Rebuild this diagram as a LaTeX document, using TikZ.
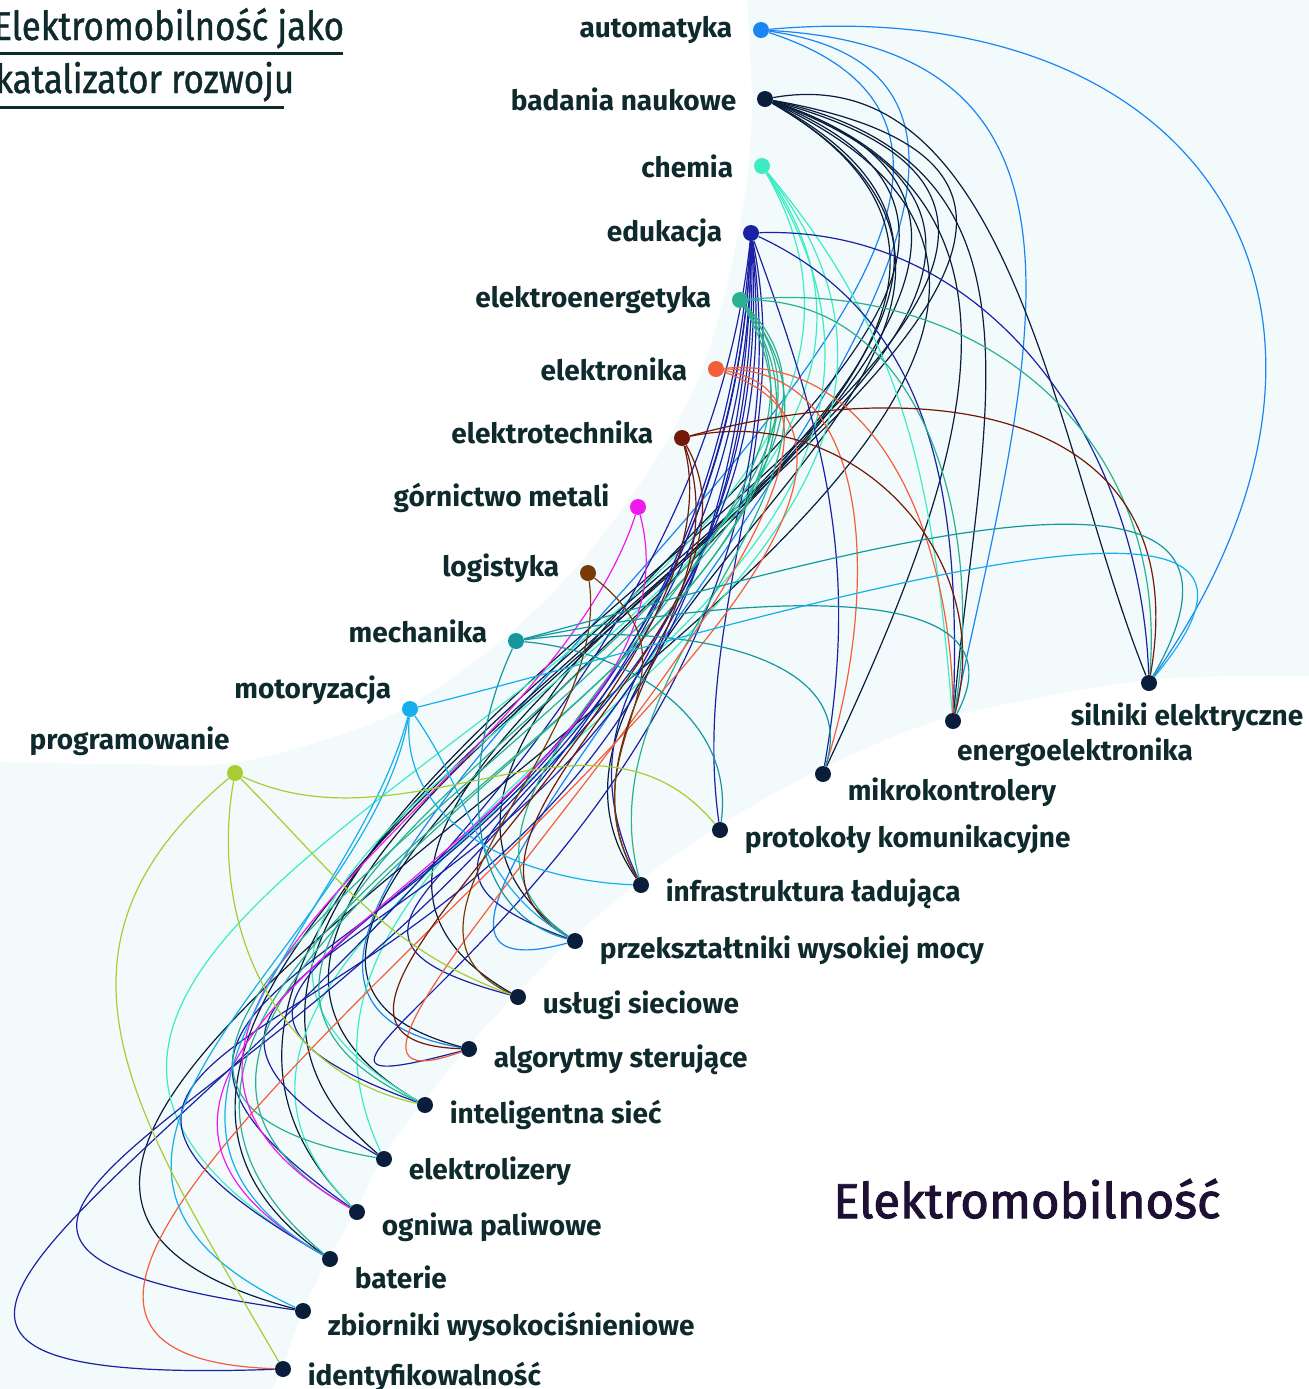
\documentclass[tikz,border=0pt]{standalone}
\usepackage{fontspec}
\setmainfont{Fira Sans}
\newfontfamily\midfont[FakeBold=2]{Fira Sans}
\newfontfamily\headfont[FakeStretch=0.87,FakeBold=1]{Fira Sans}
\usetikzlibrary{positioning}

\definecolor{cA}{HTML}{1B86F0}
\definecolor{cB}{HTML}{0A1D3A}
\definecolor{cC}{HTML}{3EECC2}
\definecolor{cD}{HTML}{1B21A4}
\definecolor{cE}{HTML}{2AB190}
\definecolor{cF}{HTML}{F45E3B}
\definecolor{cG}{HTML}{741807}
\definecolor{cH}{HTML}{F219EF}
\definecolor{cI}{HTML}{783A07}
\definecolor{cJ}{HTML}{14979F}
\definecolor{cK}{HTML}{16AFEC}
\definecolor{cL}{HTML}{A7CD33}
\definecolor{cNavy}{HTML}{0A1D3A}
\definecolor{cText}{HTML}{0E2A2C}
\definecolor{cBand}{HTML}{F2FAFC}
\definecolor{cBig}{HTML}{1D1033}

\pgfdeclarelayer{background}
\pgfdeclarelayer{edges}
\pgfsetlayers{background,edges,main}

\begin{document}
\begin{tikzpicture}[x=0.5pt,y=0.5pt]
\tikzstyle{dot}=[circle, inner sep=0pt, minimum size=8pt]
\tikzstyle{lab}=[inner sep=0pt, text=cText, font=\bfseries\fontsize{14}{16}\selectfont]
\tikzstyle{title}=[inner sep=0pt, text=cText, font=\headfont\fontsize{20}{22}\selectfont]
\tikzstyle{link}=[line width=0.6pt]
\useasboundingbox (0,0) rectangle (1309,-1389);

\begin{pgfonlayer}{background}
\fill[white] (0,0) rectangle (1309,-1389);
\fill[cBand] plot[smooth] coordinates {(747,0) (752,-100) (747,-180) (735,-250) (718,-320) (696,-385) (662,-450) (618,-515) (565,-580) (490,-650) (385,-718) (240,-762) (120,-764) (0,-762)}
  -- (0,-1389) -- (272,-1389)
  -- plot[smooth] coordinates {(272,-1389) (283,-1366) (303,-1310) (330,-1256) (357,-1208) (384,-1155) (425,-1100) (469,-1045) (518,-992) (575,-936) (641,-880) (720,-825) (823,-768) (953,-716) (1149,-680) (1309,-676)}
  -- (1309,0) -- cycle;
\end{pgfonlayer}

% title
\node[title, anchor=base west] (title1) at (-7,-40) {Elektromobilność jako};
\node[title, anchor=base west] (title2) at (-5,-93) {katalizator rozwoju};
\draw[cText, line width=1.5pt] (0,-53) -- (343,-53);
\draw[cText, line width=1.5pt] (0,-107) -- (284,-107);
\node[anchor=base west, inner sep=0pt, text=cBig, font=\midfont\fontsize{24.5}{28}\selectfont] (elektromobilnosc) at (833,-1218) {Elektromobilność};

% disciplines
\node[dot, fill=cA] (automatyka) at (761,-30) {};
\node[dot, fill=cB] (badania) at (765,-99) {};
\node[dot, fill=cC] (chemia) at (762,-166) {};
\node[dot, fill=cD] (edukacja) at (751,-233) {};
\node[dot, fill=cE] (elektroenergetyka) at (740,-300) {};
\node[dot, fill=cF] (elektronika) at (716,-369) {};
\node[dot, fill=cG] (elektrotechnika) at (682,-438) {};
\node[dot, fill=cH] (gornictwo) at (638,-507) {};
\node[dot, fill=cI] (logistyka) at (588,-573) {};
\node[dot, fill=cJ] (mechanika) at (516,-641) {};
\node[dot, fill=cK] (motoryzacja) at (410,-709) {};
\node[dot, fill=cL] (programowanie) at (235,-773) {};

\node[lab, left=10pt of automatyka] (lautomatyka) {automatyka};
\node[lab, left=10pt of badania] (lbadania) {badania naukowe};
\node[lab, left=10pt of chemia] (lchemia) {chemia};
\node[lab, left=10pt of edukacja] (ledukacja) {edukacja};
\node[lab, left=10pt of elektroenergetyka] (lelektroenergetyka) {elektroenergetyka};
\node[lab, left=10pt of elektronika] (lelektronika) {elektronika};
\node[lab, left=10pt of elektrotechnika, yshift=3pt] (lelektrotechnika) {elektrotechnika};
\node[lab, left=10pt of gornictwo, yshift=4.5pt] (lgornictwo) {górnictwo metali};
\node[lab, left=10pt of logistyka, yshift=2.5pt] (llogistyka) {logistyka};
\node[lab, left=10pt of mechanika, yshift=5pt] (lmechanika) {mechanika};
\node[lab, left=5pt of motoryzacja, yshift=9.5pt] (lmotoryzacja) {motoryzacja};
\node[lab, above left=5.5pt and -0.5pt of programowanie] (lprogramowanie) {programowanie};

% topics
\node[dot, fill=cNavy] (silniki) at (1149,-683) {};
\node[dot, fill=cNavy] (energoelektronika) at (953,-721) {};
\node[dot, fill=cNavy] (mikrokontrolery) at (823,-774) {};
\node[dot, fill=cNavy] (protokoly) at (720,-830) {};
\node[dot, fill=cNavy] (infrastruktura) at (641,-885) {};
\node[dot, fill=cNavy] (przeksztaltniki) at (575,-941) {};
\node[dot, fill=cNavy] (uslugi) at (518,-997) {};
\node[dot, fill=cNavy] (algorytmy) at (469,-1049) {};
\node[dot, fill=cNavy] (inteligentna) at (425,-1105) {};
\node[dot, fill=cNavy] (elektrolizery) at (384,-1159) {};
\node[dot, fill=cNavy] (ogniwa) at (357,-1212) {};
\node[dot, fill=cNavy] (baterie) at (330,-1259) {};
\node[dot, fill=cNavy] (zbiorniki) at (303,-1311) {};
\node[dot, fill=cNavy] (identyfikowalnosc) at (283,-1369) {};

\node[lab, below=5.5pt of silniki, xshift=19pt] (lsilniki) {silniki elektryczne};
\node[lab, below=4pt of energoelektronika, xshift=61pt] (lenergoelektronika) {energoelektronika};
\node[lab, right=8pt of mikrokontrolery, yshift=-9pt] (lmikrokontrolery) {mikrokontrolery};
\node[lab, right=8pt of protokoly, yshift=-4.5pt] (lprotokoly) {protokoły komunikacyjne};
\node[lab, right=8pt of infrastruktura, yshift=-4.5pt] (linfrastruktura) {infrastruktura ładująca};
\node[lab, right=8pt of przeksztaltniki, yshift=-4.5pt] (lprzeksztaltniki) {przekształtniki wysokiej mocy};
\node[lab, right=8pt of uslugi, yshift=-4pt] (luslugi) {usługi sieciowe};
\node[lab, right=8pt of algorytmy, yshift=-5.5pt] (lalgorytmy) {algorytmy sterujące};
\node[lab, right=8pt of inteligentna, yshift=-5pt] (linteligentna) {inteligentna sieć};
\node[lab, right=8pt of elektrolizery, yshift=-6pt] (lelektrolizery) {elektrolizery};
\node[lab, right=8pt of ogniwa, yshift=-7.5pt] (logniwa) {ogniwa paliwowe};
\node[lab, right=8pt of baterie, yshift=-9pt] (lbaterie) {baterie};
\node[lab, right=8pt of zbiorniki, yshift=-8pt] (lzbiorniki) {zbiorniki wysokociśnieniowe};
\node[lab, right=8pt of identyfikowalnosc, yshift=-4pt] (lidentyfikowalnosc) {identyfikowalność};

\begin{pgfonlayer}{edges}
% automatyka
\draw[link, cA] (automatyka) to[out=5, in=55, looseness=1.5] (silniki);
\draw[link, cA] (automatyka) to[out=-3, in=78, looseness=1.3] (energoelektronika);
\draw[link, cA] (automatyka) to[out=-8, in=195, out looseness=1.4, in looseness=1] (przeksztaltniki);
\draw[link, cA] (automatyka) to[out=-18, in=170, out looseness=1.3, in looseness=1.1] (algorytmy);
% badania naukowe
\draw[link, cB] (badania) to[out=10, in=112, looseness=0.9] (silniki);
\draw[link, cB] (badania) to[out=-12, in=85, looseness=1.2] (energoelektronika);
\draw[link, cB] (badania) to[out=-18, in=65, looseness=1.2] (mikrokontrolery);
\draw[link, cB] (badania) to[out=-30, in=125, out looseness=1.5, in looseness=1] (infrastruktura);
\draw[link, cB] (badania) to[out=-22, in=145, out looseness=1.5, in looseness=1.2] (przeksztaltniki);
\draw[link, cB] (badania) to[out=-28, in=150, out looseness=1.5, in looseness=1.2] (uslugi);
\draw[link, cB] (badania) to[out=-18, in=165, out looseness=1.5, in looseness=1.2] (algorytmy);
\draw[link, cB] (badania) to[out=-30, in=150, out looseness=1.4, in looseness=1.2] (inteligentna);
\draw[link, cB] (badania) to[out=-15, in=140, out looseness=1.5, in looseness=1.2] (elektrolizery);
\draw[link, cB] (badania) to[out=-20, in=135, out looseness=1.4, in looseness=1.2] (ogniwa);
\draw[link, cB] (badania) to[out=-10, in=145, out looseness=1.5, in looseness=1.2] (baterie);
\draw[link, cB] (badania) to[out=-25, in=165, out looseness=1.5, in looseness=1.4] (zbiorniki);
% chemia
\draw[link, cC] (chemia) to[out=-50, in=95] (energoelektronika);
\draw[link, cC] (chemia) to[out=-55, in=150, out looseness=1.3, in looseness=1.3] (inteligentna);
\draw[link, cC] (chemia) to[out=-58, in=115, out looseness=1.3] (elektrolizery);
\draw[link, cC] (chemia) to[out=-52, in=135, out looseness=1.3] (ogniwa);
\draw[link, cC] (chemia) to[out=-60, in=150, out looseness=1.2, in looseness=1.5] (baterie);
% edukacja
\draw[link, cD] (edukacja) to[out=2, in=92] (silniki);
\draw[link, cD] (edukacja) to[out=-25, in=88] (energoelektronika);
\draw[link, cD] (edukacja) to[out=-70, in=80] (mikrokontrolery);
\draw[link, cD] (edukacja) to[out=-78, in=98, looseness=0.9] (protokoly);
\draw[link, cD] (edukacja) to[out=-84, in=115, out looseness=1.5] (infrastruktura);
\draw[link, cD] (edukacja) to[out=-86, in=160, out looseness=1.9, in looseness=1.1] (przeksztaltniki);
\draw[link, cD] (edukacja) to[out=-90, in=165, out looseness=1.9, in looseness=1.1] (uslugi);
\draw[link, cD] (edukacja) to[out=-82, in=195, out looseness=1.8] (algorytmy);
\draw[link, cD] (edukacja) to[out=-92, in=160, out looseness=1.9, in looseness=1.2] (inteligentna);
\draw[link, cD] (edukacja) to[out=-88, in=150, out looseness=1.9, in looseness=1.2] (elektrolizery);
\draw[link, cD] (edukacja) to[out=-94, in=145, out looseness=1.9, in looseness=1.2] (ogniwa);
\draw[link, cD] (edukacja) to[out=-90, in=150, out looseness=2, in looseness=1.3] (baterie);
\draw[link, cD] (edukacja) to[out=-92, in=172, out looseness=1.8, in looseness=1.5] (zbiorniki);
\draw[link, cD] (edukacja) to[out=-96, in=182, out looseness=1.6, in looseness=1.6] (identyfikowalnosc);
% elektroenergetyka
\draw[link, cE] (elektroenergetyka) to[out=5, in=85, looseness=1.1] (silniki);
\draw[link, cE] (elektroenergetyka) to[out=0, in=80] (energoelektronika);
\draw[link, cE] (elektroenergetyka) to[out=-50, in=105] (infrastruktura);
\draw[link, cE] (elektroenergetyka) to[out=-55, in=145] (przeksztaltniki);
\draw[link, cE] (elektroenergetyka) to[out=-50, in=155, in looseness=1.3] (inteligentna);
\draw[link, cE] (elektroenergetyka) to[out=-45, in=170, in looseness=1.5] (elektrolizery);
\draw[link, cE] (elektroenergetyka) to[out=-55, in=150, in looseness=1.2] (ogniwa);
\draw[link, cE] (elektroenergetyka) to[out=-60, in=140, in looseness=1.2] (baterie);
% elektronika
\draw[link, cF] (elektronika) to[out=5, in=90] (energoelektronika);
\draw[link, cF] (elektronika) to[out=0, in=72] (mikrokontrolery);
\draw[link, cF] (elektronika) to[out=-10, in=200] (algorytmy);
\draw[link, cF] (elektronika) to[out=-20, in=178, in looseness=1.3] (identyfikowalnosc);
% elektrotechnika
\draw[link, cG] (elektrotechnika) to[out=15, in=80, looseness=1.3] (silniki);
\draw[link, cG] (elektrotechnika) to[out=12, in=75, looseness=1.1] (energoelektronika);
\draw[link, cG] (elektrotechnika) to[out=-70, in=120] (infrastruktura);
\draw[link, cG] (elektrotechnika) to[out=-60, in=150] (przeksztaltniki);
\draw[link, cG] (elektrotechnika) to[out=-75, in=178] (algorytmy);
% gornictwo metali
\draw[link, cH] (gornictwo) to[out=-108, in=150, in looseness=1.3] (ogniwa);
\draw[link, cH] (gornictwo) to[out=-75, in=150, in looseness=1.4] (baterie);
% logistyka
\draw[link, cI] (logistyka) to[out=-38, in=120, looseness=1.3] (infrastruktura);
\draw[link, cI] (logistyka) to[out=-82, in=155] (uslugi);
% mechanika
\draw[link, cJ] (mechanika) to[out=15, in=60, looseness=1.25] (silniki);
\draw[link, cJ] (mechanika) to[out=12, in=62] (energoelektronika);
\draw[link, cJ] (mechanika) to[out=8, in=72] (mikrokontrolery);
\draw[link, cJ] (mechanika) to[out=-5, in=82] (protokoly);
\draw[link, cJ] (mechanika) to[out=-115, in=165] (przeksztaltniki);
% motoryzacja
\draw[link, cK] (motoryzacja) to[out=14, in=50, looseness=1.15] (silniki);
\draw[link, cK] (motoryzacja) to[out=-95, in=178] (infrastruktura);
\draw[link, cK] (motoryzacja) to[out=-55, in=150] (przeksztaltniki);
\draw[link, cK] (motoryzacja) to[out=-105, in=150, in looseness=1.3] (baterie);
\draw[link, cK] (motoryzacja) to[out=-100, in=155, in looseness=1.5] (zbiorniki);
% programowanie
\draw[link, cL] (programowanie) to[out=-140, in=120, looseness=1.2] (identyfikowalnosc);
\draw[link, cL] (programowanie) to[out=-100, in=168] (inteligentna);
\draw[link, cL] (programowanie) to[out=-45, in=160] (uslugi);
\draw[link, cL] (programowanie) to[out=-25, in=130] (protokoly);
\end{pgfonlayer}
\end{tikzpicture}
\end{document}
